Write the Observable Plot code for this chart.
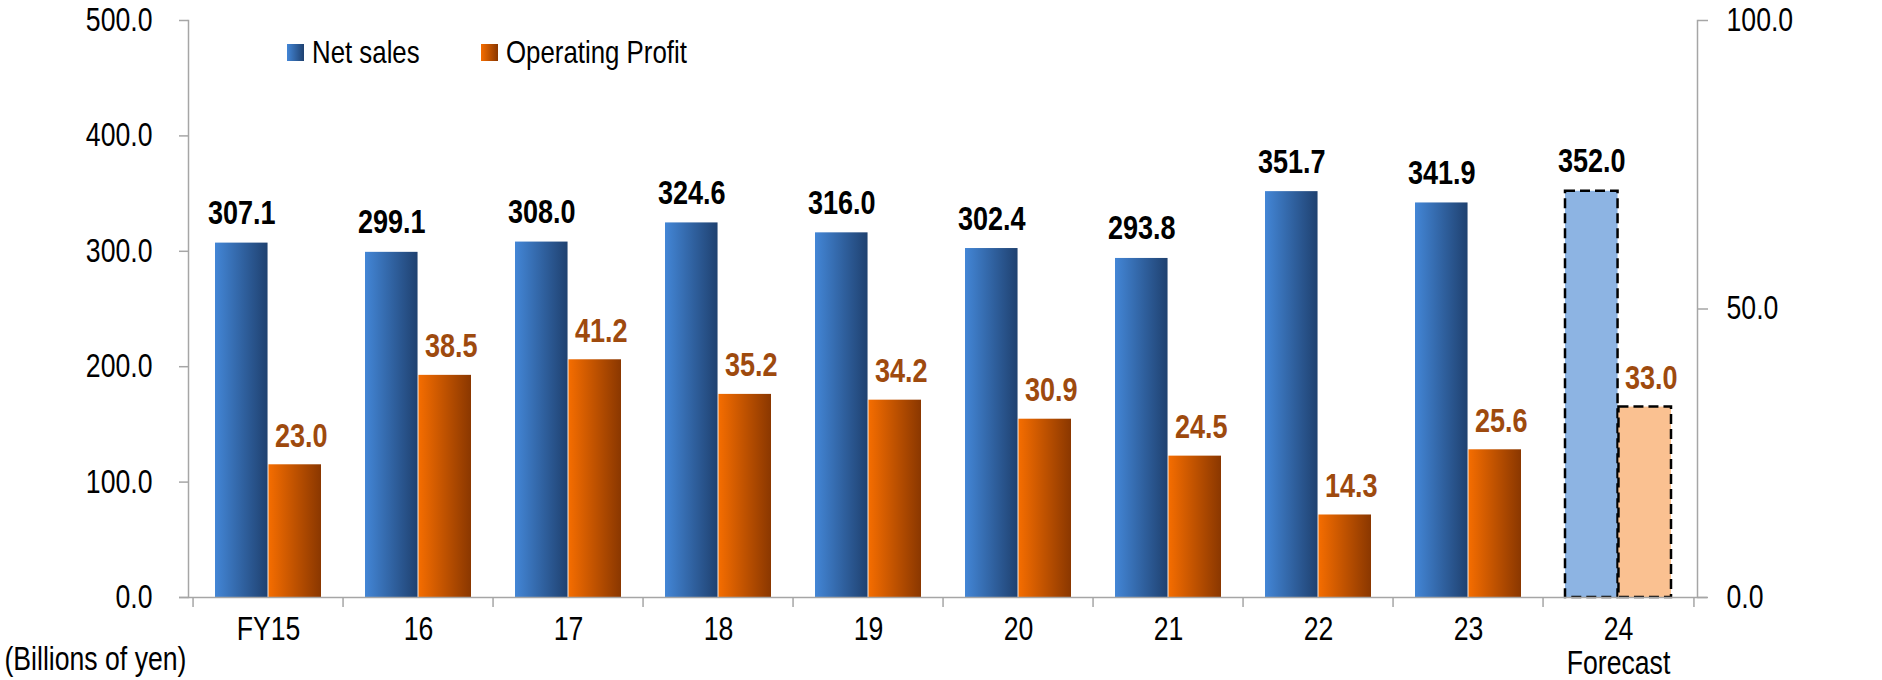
<!DOCTYPE html>
<html>
<head>
<meta charset="utf-8">
<script src="https://cdn.jsdelivr.net/npm/d3@7"></script>
<script src="https://cdn.jsdelivr.net/npm/@observablehq/plot@0.6"></script>
<style>
  html, body { margin: 0; padding: 0; background: #fff; }
  #chart { position: relative; width: 1882px; height: 680px; }
</style>
</head>
<body>
<div id="chart"></div>
<script>
// ---- data ----
const categories = ["FY15", "16", "17", "18", "19", "20", "21", "22", "23", "24"];
const tickLabels = ["FY15", "16", "17", "18", "19", "20", "21", "22", "23", "24\nForecast"];
const netSales = [307.1, 299.1, 308.0, 324.6, 316.0, 302.4, 293.8, 351.7, 341.9, 352.0];
const operatingProfit = [23.0, 38.5, 41.2, 35.2, 34.2, 30.9, 24.5, 14.3, 25.6, 33.0];
const forecastCategory = "24";
const leftTicks = [0, 100, 200, 300, 400, 500];
const rightTicks = [0, 50, 100];
const seriesNames = ["Net sales", "Operating Profit"];

// ---- layout ----
const W = 1882, H = 680;
const mL = 188, mR = 185, mT = 20, mB = 83;
const bw = (W - mL - mR) / categories.length;
const half = bw / 2;
const outer = 22;
const ratio = 5; // right axis (0-100) mapped onto left axis (0-500)
const FONT = "'Liberation Sans', Arial, sans-serif";
const NARROW = 0.82; // emulate a narrow face
const AXIS_FS = 32.5;

const rows = categories.map((c, i) => ({
  cat: c, sales: netSales[i], profit: operatingProfit[i], forecast: c === forecastCategory
}));
const actual = rows.filter(d => !d.forecast);
const forecast = rows.filter(d => d.forecast);

const grey = "#a6a6a6";
const profitColor = "#9e4a0e";
const salesCenter = -(half - outer) / 2;

const chart = Plot.plot({
  width: W, height: H,
  marginLeft: mL, marginRight: mR, marginTop: mT, marginBottom: mB,
  style: { fontFamily: FONT, fontSize: AXIS_FS + "px", background: "#fff", color: "#000", overflow: "visible" },
  x: { domain: categories, padding: 0, axis: null },
  y: { domain: [0, 500], axis: null },
  marks: [
    Plot.barY(actual, { x: "cat", y: "sales", fill: "url(#gBlue)", insetLeft: outer, insetRight: half }),
    Plot.barY(actual, { x: "cat", y: d => d.profit * ratio, fill: "url(#gOrange)", insetLeft: half, insetRight: outer }),
    Plot.barY(forecast, { x: "cat", y: "sales", fill: "#8db4e3", stroke: "#000", strokeWidth: 2.5, strokeDasharray: "10,5", insetLeft: outer, insetRight: half }),
    Plot.barY(forecast, { x: "cat", y: d => d.profit * ratio, fill: "#fac191", stroke: "#000", strokeWidth: 2.5, strokeDasharray: "10,5", insetLeft: half, insetRight: outer }),
    Plot.frame({ anchor: "left", stroke: grey, strokeWidth: 1.5 }),
    Plot.frame({ anchor: "right", stroke: grey, strokeWidth: 1.5 }),
    Plot.ruleY([0], { stroke: grey, strokeWidth: 1.5, insetLeft: -9, insetRight: -10 }),
    Plot.axisY({ anchor: "left", ticks: leftTicks, tickFormat: d3.format(".1f"), tickSize: 9, tickPadding: 27, stroke: grey, strokeWidth: 1.5, fontSize: AXIS_FS, fill: "#000", label: null }),
    Plot.axisY({ anchor: "right", ticks: rightTicks.map(v => v * ratio), tickFormat: d => d3.format(".1f")(d / ratio), tickSize: 10, tickPadding: 19, stroke: grey, strokeWidth: 1.5, fontSize: AXIS_FS, fill: "#000", label: null }),
    Plot.axisX({ anchor: "bottom", tickSize: 10, tickFormat: null, dx: -half, stroke: grey, strokeWidth: 1.5, label: null }),
    Plot.axisX({ anchor: "bottom", ticks: [categories[categories.length - 1]], tickSize: 10, tickFormat: null, dx: half, stroke: grey, strokeWidth: 1.5, label: null }),
    Plot.axisX({ anchor: "bottom", tickSize: 0, tickPadding: 18, tickFormat: d => tickLabels[categories.indexOf(d)], fontSize: AXIS_FS, fill: "#000", lineHeight: 1.05, label: null }),
    Plot.text(rows, { x: "cat", y: "sales", text: d => d.sales.toFixed(1), dx: salesCenter, dy: -19, lineAnchor: "bottom", fontSize: 33, fontWeight: "bold", fill: "#000" }),
    Plot.text(rows, { x: "cat", y: d => d.profit * ratio, text: d => d.profit.toFixed(1), dx: -salesCenter + 6, dy: -18, lineAnchor: "bottom", fontSize: 33, fontWeight: "bold", fill: profitColor }),
    Plot.text(["(Billions of yen)"], { frameAnchor: "bottom-left", textAnchor: "end", lineAnchor: "bottom", dx: -2, dy: 72, fontSize: AXIS_FS, fill: "#000" })
  ]
});

document.getElementById("chart").appendChild(chart);

const svg = d3.select(chart);
const defs = svg.insert("defs", ":first-child");
function grad(id, c0, c1) {
  const g = defs.append("linearGradient").attr("id", id).attr("x1", "0").attr("x2", "1").attr("y1", "0").attr("y2", "0");
  g.append("stop").attr("offset", "0%").attr("stop-color", c0);
  g.append("stop").attr("offset", "100%").attr("stop-color", c1);
}
grad("gBlue", "#4386d6", "#1f4170");
grad("gOrange", "#f56d00", "#8a3700");

// legend
const legend = svg.append("g").attr("font-family", FONT).attr("font-size", 31.5).attr("text-anchor", "start");
const legendItems = [
  { name: seriesNames[0], fill: "url(#gBlue)", x: 287 },
  { name: seriesNames[1], fill: "url(#gOrange)", x: 481 }
];
legendItems.forEach(it => {
  legend.append("rect").attr("x", it.x).attr("y", 44).attr("width", 17).attr("height", 17).attr("fill", it.fill);
  legend.append("text").attr("transform", `translate(${it.x + 25},63)`).attr("fill", "#000").text(it.name);
});

// narrow the glyphs horizontally around each text's anchor point
svg.selectAll("text").each(function() {
  const x = this.getAttribute("x");
  let t = this.getAttribute("transform") || "";
  if (x != null && !isNaN(+x)) { t += ` translate(${+x},0)`; this.removeAttribute("x"); }
  this.setAttribute("transform", `${t} scale(${NARROW},1)`);
});
</script>
</body>
</html>
